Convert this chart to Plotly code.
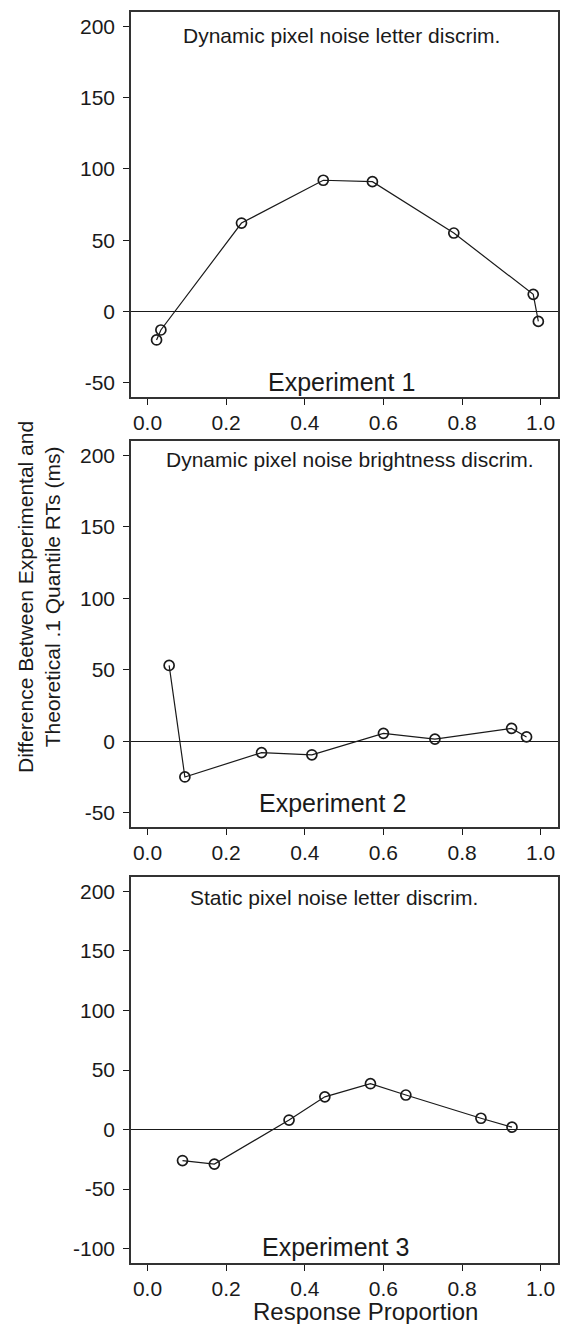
import plotly.graph_objects as go
from plotly.subplots import make_subplots

# Response proportion (x) and RT difference in ms (y) per experiment
exp1_x = [0.023, 0.034, 0.239, 0.447, 0.572, 0.779, 0.981, 0.994]
exp1_y = [-20, -13, 62, 92, 91, 55, 12, -7]

exp2_x = [0.055, 0.095, 0.290, 0.418, 0.600, 0.731, 0.926, 0.964]
exp2_y = [53, -25, -8, -9.5, 5.5, 1.5, 9, 3]

exp3_x = [0.089, 0.170, 0.360, 0.451, 0.567, 0.657, 0.848, 0.927]
exp3_y = [-26, -29, 8, 27.5, 38.5, 29, 9.5, 2]

panel_titles = [
    "Dynamic pixel noise letter discrim.",
    "Dynamic pixel noise brightness discrim.",
    "Static pixel noise letter discrim.",
]
panel_labels = ["Experiment 1", "Experiment 2", "Experiment 3"]
x_ticks = [0.0, 0.2, 0.4, 0.6, 0.8, 1.0]
y_ticks_12 = [-50, 0, 50, 100, 150, 200]
y_ticks_3 = [-100, -50, 0, 50, 100, 150, 200]

W, H = 561, 1324
FONT = "Liberation Sans"
INK = "#1a1a1a"

fig = make_subplots(rows=3, cols=1)

series = [(exp1_x, exp1_y), (exp2_x, exp2_y), (exp3_x, exp3_y)]
for i, (xs, ys) in enumerate(series, start=1):
    fig.add_trace(
        go.Scatter(
            x=xs, y=ys, mode="lines+markers",
            line=dict(color=INK, width=1.2),
            marker=dict(symbol="circle-open", size=10, color=INK,
                        line=dict(width=1.7, color=INK)),
            showlegend=False,
        ),
        row=i, col=1,
    )

# panel boxes in pixels: (top, bottom)
boxes = [(12, 397), (441, 827), (877, 1263)]
x_dom = [131 / W, 558 / W]
y_ranges = [[-60, 210], [-60, 210], [-112, 212]]
y_tick_sets = [y_ticks_12, y_ticks_12, y_ticks_3]

for i in range(3):
    top, bot = boxes[i]
    sfx = "" if i == 0 else str(i + 1)
    fig.layout["xaxis" + sfx].update(
        domain=x_dom, range=[-0.042, 1.044],
        tickvals=x_ticks, ticktext=[f"{v:.1f}" for v in x_ticks],
        ticks="outside", ticklen=6, tickwidth=1.2, tickcolor=INK,
        showline=True, linecolor="#333333", linewidth=1.5, mirror=True,
        showgrid=False, zeroline=False, automargin=False,
        tickfont=dict(family=FONT, size=21, color=INK),
    )
    fig.layout["yaxis" + sfx].update(
        domain=[1 - bot / H, 1 - top / H], range=y_ranges[i],
        tickvals=y_tick_sets[i], ticktext=[str(v) for v in y_tick_sets[i]],
        ticks="outside", ticklen=6, tickwidth=1.2, tickcolor=INK,
        showline=True, linecolor="#333333", linewidth=1.5, mirror=True,
        showgrid=False, zeroline=True, zerolinecolor=INK, zerolinewidth=1.2,
        automargin=False, ticklabelstandoff=4,
        tickfont=dict(family=FONT, size=21, color=INK),
    )

title_pos = [(0.494, 0.940), (0.513, 0.951), (0.475, 0.946)]
label_pos = [(0.493, 0.039), (0.471, 0.062), (0.480, 0.041)]
for i in range(3):
    sfx = "" if i == 0 else str(i + 1)
    fig.add_annotation(
        text=panel_titles[i], xref="x" + sfx + " domain", yref="y" + sfx + " domain",
        x=title_pos[i][0], y=title_pos[i][1], showarrow=False,
        xanchor="center", yanchor="middle",
        font=dict(family=FONT, size=21, color=INK),
    )
    fig.add_annotation(
        text=panel_labels[i], xref="x" + sfx + " domain", yref="y" + sfx + " domain",
        x=label_pos[i][0], y=label_pos[i][1], showarrow=False,
        xanchor="center", yanchor="middle",
        font=dict(family=FONT, size=25, color=INK),
    )

# shared axis titles
fig.add_annotation(
    text="Difference Between Experimental and<br>Theoretical .1 Quantile RTs (ms)",
    xref="paper", yref="paper", x=39 / W, y=1 - 597 / H,
    textangle=-90, showarrow=False, xanchor="center", yanchor="middle",
    font=dict(family=FONT, size=21, color=INK),
)
fig.add_annotation(
    text="Response Proportion", xref="paper", yref="paper",
    x=365 / W, y=1 - 1311 / H, showarrow=False,
    xanchor="center", yanchor="middle",
    font=dict(family=FONT, size=24, color=INK),
)

fig.update_layout(
    width=W, height=H,
    margin=dict(l=0, r=0, t=0, b=0),
    paper_bgcolor="white", plot_bgcolor="white",
)

fig.write_html("out.html")
